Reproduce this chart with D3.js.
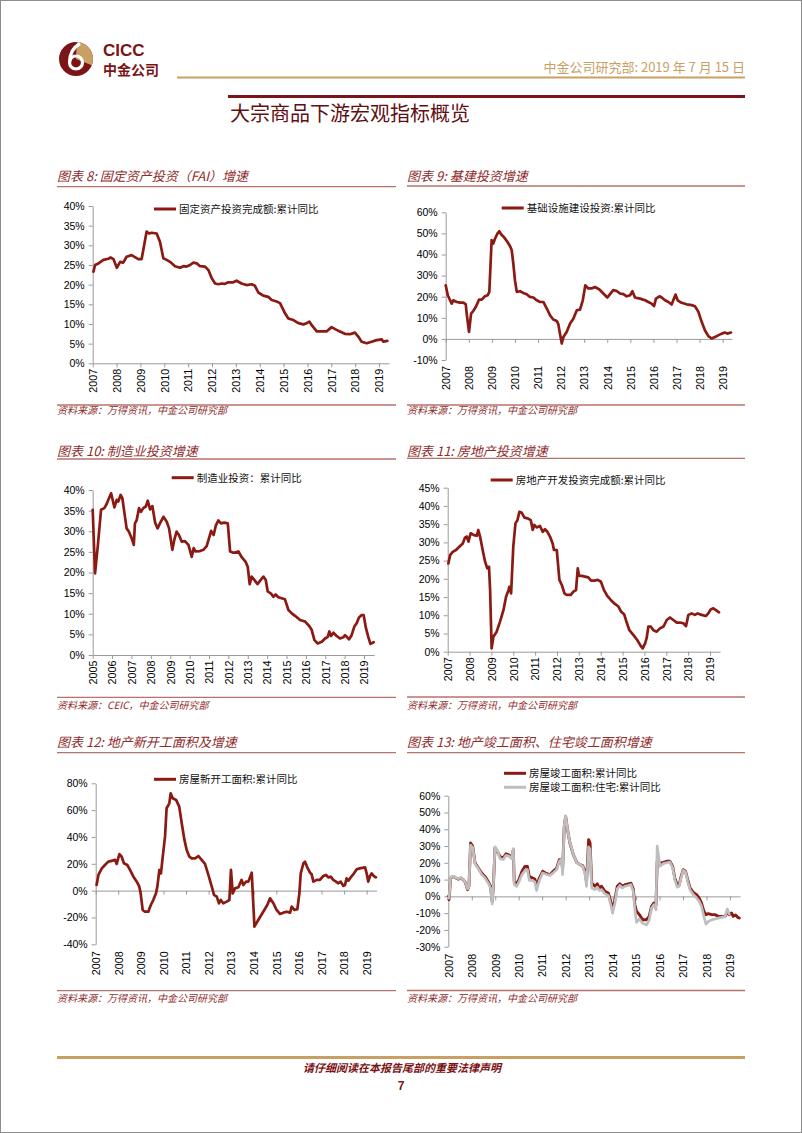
<!DOCTYPE html>
<html><head><meta charset="utf-8">
<script src="https://cdn.jsdelivr.net/npm/d3@7"></script>
<style>body{margin:0;background:#fff;} svg{display:block;}</style>
</head><body>
<script>
// ---------------- DATA ----------------
const years0719 = [2007,2008,2009,2010,2011,2012,2013,2014,2015,2016,2017,2018,2019];
const years0519 = [2005,2006,2007,2008,2009,2010,2011,2012,2013,2014,2015,2016,2017,2018,2019];
const ticksFai = [0,5,10,15,20,25,30,35,40];
const ticksInfra = [-10,0,10,20,30,40,50,60];
const ticksMfg = [0,5,10,15,20,25,30,35,40];
const ticksRe = [0,5,10,15,20,25,30,35,40,45];
const ticksStarts = [-40,-20,0,20,40,60,80];
const ticksCompl = [-30,-20,-10,0,10,20,30,40,50,60];

// [decimal year, % yoy]
const faiSeries = [[2007.03,23.3],[2007.10,25.0],[2007.24,25.4],[2007.45,26.3],[2007.66,26.6],[2007.75,26.9],[2007.87,26.5],[2008.01,24.3],[2008.15,25.8],[2008.28,25.6],[2008.42,27.1],[2008.63,27.5],[2008.77,27.0],[2008.91,26.5],[2009.05,26.5],[2009.12,28.8],[2009.26,33.5],[2009.36,33.0],[2009.47,33.2],[2009.68,33.0],[2009.82,30.9],[2009.96,26.7],[2010.10,26.3],[2010.24,25.8],[2010.45,24.7],[2010.66,24.3],[2010.80,24.7],[2010.94,24.6],[2011.08,25.0],[2011.22,25.6],[2011.36,25.4],[2011.50,24.7],[2011.71,24.6],[2011.85,23.7],[2011.99,21.6],[2012.13,20.3],[2012.27,20.1],[2012.41,20.3],[2012.54,20.2],[2012.68,20.6],[2012.89,20.6],[2013.03,21.0],[2013.24,20.3],[2013.45,19.9],[2013.66,20.1],[2013.80,19.7],[2013.94,18.0],[2014.15,17.2],[2014.36,16.9],[2014.50,16.1],[2014.71,15.7],[2014.85,15.3],[2014.99,13.6],[2015.06,12.7],[2015.20,11.4],[2015.41,11.0],[2015.62,10.2],[2015.83,9.9],[2015.97,10.2],[2016.08,10.6],[2016.18,9.7],[2016.39,8.1],[2016.59,8.1],[2016.80,8.1],[2017.01,9.2],[2017.22,8.5],[2017.36,8.1],[2017.57,7.5],[2017.78,7.4],[2017.99,7.8],[2018.13,6.8],[2018.27,5.5],[2018.48,5.1],[2018.69,5.5],[2018.90,5.9],[2019.11,6.1],[2019.18,5.5],[2019.35,5.7]];

const infraSeries = [[2007.00,25.4],[2007.09,20.7],[2007.19,18.3],[2007.26,16.7],[2007.33,18.3],[2007.48,17.5],[2007.62,17.2],[2007.77,17.2],[2007.87,16.4],[2007.91,12.0],[2008.01,3.3],[2008.10,12.0],[2008.20,13.3],[2008.31,15.2],[2008.44,18.6],[2008.56,18.6],[2008.70,20.2],[2008.82,20.7],[2008.89,22.3],[2008.99,46.8],[2009.06,45.2],[2009.14,47.6],[2009.24,49.9],[2009.32,51.0],[2009.40,49.6],[2009.54,48.0],[2009.67,46.0],[2009.79,43.9],[2009.86,42.0],[2009.93,35.7],[2010.00,27.8],[2010.08,22.3],[2010.22,22.6],[2010.36,21.8],[2010.51,21.2],[2010.65,19.9],[2010.80,19.6],[2010.94,18.3],[2011.09,17.5],[2011.23,17.5],[2011.38,14.4],[2011.52,11.2],[2011.66,9.2],[2011.81,8.5],[2011.88,7.0],[2011.95,2.5],[2012.03,-2.2],[2012.10,0.9],[2012.24,3.3],[2012.39,7.3],[2012.53,9.6],[2012.68,13.6],[2012.82,13.9],[2012.94,18.3],[2013.05,25.4],[2013.18,23.9],[2013.32,23.9],[2013.47,24.6],[2013.66,23.4],[2013.83,21.5],[2014.00,19.6],[2014.12,21.2],[2014.26,23.1],[2014.41,22.7],[2014.55,21.5],[2014.70,21.2],[2014.84,20.2],[2014.99,20.7],[2015.09,22.6],[2015.20,19.6],[2015.42,19.1],[2015.64,18.3],[2015.78,17.5],[2015.92,16.7],[2016.03,15.6],[2016.11,19.1],[2016.26,20.2],[2016.36,19.6],[2016.50,18.3],[2016.65,17.5],[2016.79,16.3],[2016.86,18.3],[2016.96,21.0],[2017.05,18.3],[2017.22,17.1],[2017.44,16.4],[2017.66,16.0],[2017.80,15.5],[2017.95,12.8],[2018.09,8.1],[2018.23,4.1],[2018.38,1.3],[2018.52,0.2],[2018.74,1.3],[2018.96,2.5],[2019.10,3.0],[2019.20,2.5],[2019.36,3.0]];

const mfgSeries = [[2005.00,35.2],[2005.12,19.8],[2005.26,26.3],[2005.43,35.2],[2005.60,35.6],[2005.72,36.6],[2005.84,38.0],[2005.95,39.2],[2006.01,38.0],[2006.12,35.8],[2006.24,37.6],[2006.32,37.2],[2006.44,38.8],[2006.53,38.0],[2006.63,34.7],[2006.75,30.7],[2006.87,29.9],[2007.01,28.3],[2007.12,26.7],[2007.18,31.9],[2007.27,32.7],[2007.39,35.6],[2007.49,34.7],[2007.61,35.6],[2007.74,36.0],[2007.84,37.4],[2007.96,35.3],[2008.08,36.1],[2008.22,32.1],[2008.35,30.7],[2008.47,31.9],[2008.65,33.5],[2008.82,32.3],[2008.94,30.7],[2009.11,25.5],[2009.21,27.9],[2009.33,29.9],[2009.45,29.1],[2009.59,27.5],[2009.76,27.6],[2009.94,26.7],[2010.11,23.8],[2010.21,25.9],[2010.31,25.1],[2010.54,25.2],[2010.71,25.5],[2010.88,26.4],[2011.00,28.3],[2011.11,30.1],[2011.24,29.1],[2011.36,31.5],[2011.48,32.6],[2011.62,31.9],[2011.79,32.1],[2011.97,31.9],[2012.09,25.1],[2012.26,24.8],[2012.52,25.1],[2012.69,23.7],[2012.89,22.6],[2013.00,21.4],[2013.10,17.2],[2013.20,19.0],[2013.34,18.2],[2013.50,17.2],[2013.67,18.2],[2013.81,19.0],[2013.93,18.2],[2014.03,15.4],[2014.20,14.9],[2014.32,14.1],[2014.44,14.7],[2014.58,14.0],[2014.79,13.7],[2014.92,13.5],[2015.10,10.9],[2015.27,10.1],[2015.44,9.5],[2015.70,8.5],[2015.96,8.1],[2016.16,7.1],[2016.30,6.1],[2016.44,3.6],[2016.61,2.8],[2016.82,3.2],[2016.99,4.0],[2017.13,4.4],[2017.21,5.7],[2017.30,4.6],[2017.42,5.4],[2017.59,4.6],[2017.76,4.0],[2017.93,4.3],[2018.02,4.8],[2018.11,4.4],[2018.23,3.8],[2018.36,4.8],[2018.50,6.9],[2018.62,7.7],[2018.74,9.1],[2018.88,9.7],[2018.98,9.7],[2019.10,6.5],[2019.22,4.4],[2019.33,2.7],[2019.50,3.1]];

const reSeries = [[2007.03,24.2],[2007.11,26.5],[2007.23,27.4],[2007.38,27.9],[2007.53,28.8],[2007.69,29.7],[2007.79,31.3],[2007.87,31.6],[2007.95,30.2],[2008.05,32.5],[2008.20,32.0],[2008.33,31.8],[2008.40,33.4],[2008.48,31.6],[2008.60,27.9],[2008.71,24.7],[2008.81,22.9],[2008.89,23.3],[2008.94,16.9],[2009.01,0.9],[2009.09,4.1],[2009.24,5.5],[2009.39,8.2],[2009.55,11.4],[2009.67,15.1],[2009.78,16.9],[2009.82,17.8],[2009.90,16.0],[2010.00,28.8],[2010.10,35.2],[2010.19,36.1],[2010.28,38.4],[2010.39,38.1],[2010.51,36.8],[2010.66,36.6],[2010.80,36.1],[2010.89,33.4],[2010.96,34.8],[2011.07,34.1],[2011.22,34.5],[2011.35,32.9],[2011.45,33.6],[2011.56,32.9],[2011.68,31.6],[2011.80,29.7],[2011.86,27.9],[2011.99,27.9],[2012.11,19.7],[2012.22,18.3],[2012.34,16.0],[2012.44,15.6],[2012.63,15.6],[2012.75,16.5],[2012.87,16.9],[2012.95,22.9],[2013.01,20.8],[2013.13,20.8],[2013.28,20.6],[2013.43,20.4],[2013.56,19.5],[2013.71,19.5],[2013.86,19.7],[2014.01,19.2],[2014.15,16.9],[2014.30,15.3],[2014.46,14.2],[2014.65,13.1],[2014.81,12.4],[2014.93,11.0],[2015.07,10.3],[2015.19,8.0],[2015.31,5.9],[2015.49,4.6],[2015.67,3.2],[2015.83,1.6],[2015.92,0.9],[2016.03,2.3],[2016.10,3.7],[2016.18,6.9],[2016.29,6.9],[2016.41,5.9],[2016.56,5.5],[2016.71,6.4],[2016.87,6.9],[2017.02,8.7],[2017.17,9.4],[2017.32,8.7],[2017.48,8.0],[2017.63,8.0],[2017.78,7.8],[2017.90,7.0],[2018.01,10.1],[2018.16,10.5],[2018.31,10.1],[2018.43,10.5],[2018.62,10.1],[2018.81,9.8],[2018.92,10.5],[2019.03,11.6],[2019.15,11.9],[2019.27,11.4],[2019.41,10.8]];

const startsSeries = [[2007.04,4.2],[2007.12,11.7],[2007.27,16.6],[2007.41,19.1],[2007.56,21.6],[2007.75,22.4],[2007.86,22.9],[2007.93,19.9],[2008.05,27.3],[2008.15,25.3],[2008.25,20.4],[2008.40,19.1],[2008.52,15.4],[2008.67,10.4],[2008.82,6.7],[2008.93,3.0],[2008.99,-2.0],[2009.08,-14.4],[2009.18,-15.7],[2009.33,-15.7],[2009.44,-10.7],[2009.55,-7.0],[2009.67,-2.0],[2009.73,3.0],[2009.82,15.4],[2009.89,12.9],[2009.97,25.3],[2010.07,40.2],[2010.14,61.4],[2010.26,65.1],[2010.32,72.5],[2010.41,68.8],[2010.56,67.6],[2010.70,62.6],[2010.81,50.2],[2010.93,37.8],[2011.03,30.3],[2011.15,25.3],[2011.25,24.1],[2011.40,24.1],[2011.55,25.8],[2011.69,22.9],[2011.84,19.9],[2011.99,11.7],[2012.14,3.0],[2012.24,-3.2],[2012.36,-4.5],[2012.46,-9.4],[2012.54,-7.0],[2012.65,-9.4],[2012.80,-8.2],[2012.92,-7.0],[2012.99,15.4],[2013.07,-2.0],[2013.17,1.7],[2013.32,2.5],[2013.46,8.0],[2013.54,4.2],[2013.66,6.7],[2013.76,6.7],[2013.91,13.4],[2014.03,-26.8],[2014.20,-21.9],[2014.42,-15.7],[2014.60,-10.7],[2014.72,-5.7],[2014.87,-9.4],[2015.01,-14.4],[2015.16,-17.4],[2015.31,-16.4],[2015.46,-15.7],[2015.61,-16.4],[2015.68,-11.9],[2015.80,-14.4],[2015.93,-13.9],[2016.02,-2.0],[2016.08,12.9],[2016.20,20.4],[2016.27,21.6],[2016.37,17.4],[2016.49,13.4],[2016.56,12.4],[2016.64,6.7],[2016.79,8.0],[2016.93,8.0],[2017.08,10.9],[2017.20,11.7],[2017.30,9.9],[2017.41,10.4],[2017.52,8.0],[2017.64,6.7],[2017.75,5.5],[2017.85,6.7],[2017.97,3.5],[2018.04,4.2],[2018.11,9.2],[2018.19,7.5],[2018.34,10.9],[2018.44,12.9],[2018.56,15.9],[2018.70,16.6],[2018.85,17.1],[2018.93,17.4],[2019.00,12.9],[2019.07,6.7],[2019.15,10.9],[2019.22,12.9],[2019.32,10.9],[2019.41,9.9]];

// [decimal year, total completed %, residential completed %]
const completedSeries = [[2007.00,0,-1],[2007.03,-2,-1],[2007.10,10.9,11.5],[2007.21,11.9,12],[2007.33,10.9,11],[2007.43,10.3,10.5],[2007.53,10.9,11],[2007.64,9.9,10],[2007.72,8.5,8.5],[2007.82,4.0,4.5],[2007.88,6,6],[2007.95,31.8,30.5],[2008.04,29.8,29],[2008.14,19.9,19.5],[2008.28,16.9,16.5],[2008.42,13.9,13],[2008.56,11.9,11],[2008.70,8.9,8],[2008.80,6.0,5],[2008.87,-3.0,-4.5],[2008.92,6.0,6],[2008.99,28.8,29.5],[2009.09,26.8,27.5],[2009.20,23.8,22.5],[2009.34,22.8,22],[2009.46,25.4,24.5],[2009.58,24.8,24],[2009.70,22.8,22.5],[2009.77,27.8,28.5],[2009.81,8.9,7],[2009.91,7.5,6],[2010.02,10.3,9],[2010.14,14.9,13],[2010.27,17.9,15.5],[2010.37,17.9,16],[2010.45,11.9,9.5],[2010.59,10.9,9.5],[2010.69,10.3,8.5],[2010.76,6.0,3.5],[2010.88,10.9,9.5],[2011.02,14.9,14],[2011.19,13.5,13],[2011.33,12.9,12.5],[2011.47,14.9,14],[2011.62,16.9,16],[2011.73,21.9,21],[2011.83,21.9,22],[2011.87,15.9,13],[2011.94,41.7,42],[2012.00,47.7,48],[2012.08,39.7,40],[2012.18,31.8,32],[2012.33,24.8,25],[2012.47,20.3,20],[2012.61,18.9,19],[2012.72,18.3,18],[2012.82,14.9,14],[2012.89,8.9,6],[2012.98,33.8,29.5],[2013.04,31.8,28],[2013.11,7.9,5],[2013.25,6.0,4],[2013.35,7.5,5.5],[2013.43,5.0,3.5],[2013.53,6.0,4],[2013.67,3.0,1.5],[2013.82,2.0,0.5],[2013.92,-3.0,-5],[2014.00,-7.9,-10],[2014.10,-2.0,-4],[2014.20,6.0,4.5],[2014.31,7.5,6.5],[2014.41,6.0,5],[2014.53,7.0,6],[2014.67,7.5,6.5],[2014.78,7.9,7],[2014.88,4.4,3],[2014.95,-5.0,-8],[2015.02,-8.9,-15.5],[2015.14,-10.9,-13.5],[2015.28,-13.9,-16],[2015.45,-13.9,-17],[2015.56,-11.9,-14],[2015.66,-6.0,-7],[2015.76,-4.0,-5],[2015.85,-5.0,-8],[2015.90,20.9,30],[2016.02,19.9,18],[2016.16,20.3,19.5],[2016.30,20.9,20],[2016.44,20.9,20.5],[2016.56,17.9,17],[2016.65,10.9,10],[2016.75,7.0,5.5],[2016.84,7.0,6],[2016.90,10.9,10],[2017.01,15.9,15.5],[2017.11,14.9,14.5],[2017.20,9.9,9],[2017.30,5.0,4],[2017.44,2.4,1],[2017.58,1.0,-1],[2017.69,-1.0,-3],[2017.79,-4.0,-6],[2017.89,-8.9,-12],[2017.98,-10.9,-16.5],[2018.08,-10.3,-15],[2018.22,-10.9,-14],[2018.36,-10.9,-13.5],[2018.50,-11.9,-13],[2018.65,-11.9,-12.5],[2018.79,-11.9,-12],[2018.89,-9.5,-7.5],[2018.97,-10.9,-10.5],[2019.07,-9.9,null],[2019.14,-11.9,null],[2019.24,-11.1,null],[2019.33,-12.5,null],[2019.40,-12.9,null]];

// ---------------- STYLE ----------------
const W = 802, H = 1133;
const RED = '#8A1A12', GRAY = '#BEBEBE', DARK = '#7A1416', GOLD = '#C9A063';
const TITLE_C = '#8E2B2B', RULE_C = '#B8726C', AX = '#9A9A9A';
const CJK = '"Noto Sans CJK SC", "Noto Sans", sans-serif';
const LAT = '"Liberation Sans", Arial, sans-serif';

const svg = d3.select('body').append('svg').attr('width', W).attr('height', H);
svg.append('rect').attr('x', 0.5).attr('y', 0.5).attr('width', W - 1).attr('height', H - 1)
  .attr('fill', '#fff').attr('stroke', '#8c8c8c');

// ---------------- HEADER ----------------
const logo = svg.append('g').attr('transform', 'translate(76,59)');
logo.append('circle').attr('r', 17).attr('fill', DARK);
logo.append('path').attr('d', d3.arc().innerRadius(0).outerRadius(17).startAngle(0.05).endAngle(Math.PI * 0.62)()).attr('fill', GOLD);
logo.append('circle').attr('cx', 0).attr('cy', 3.5).attr('r', 6.5).attr('fill', 'none').attr('stroke', '#fff').attr('stroke-width', 3.2);
logo.append('path').attr('d', 'M -6.3,3 C -6.5,-6 -2,-12 4,-15.5').attr('fill', 'none').attr('stroke', '#fff').attr('stroke-width', 3.2);
logo.append('circle').attr('cx', 0).attr('cy', 3.5).attr('r', 2.6).attr('fill', DARK);

svg.append('text').attr('x', 103).attr('y', 56).text('CICC')
  .attr('font-family', LAT).attr('font-weight', 'bold').attr('font-size', 17).attr('fill', DARK);
svg.append('text').attr('x', 103).attr('y', 75).text('中金公司')
  .attr('font-family', CJK).attr('font-weight', 'bold').attr('font-size', 14).attr('fill', DARK);
svg.append('line').attr('x1', 177).attr('x2', 745).attr('y1', 77.5).attr('y2', 77.5).attr('stroke', GOLD).attr('stroke-width', 2);
svg.append('text').attr('x', 745).attr('y', 72).attr('text-anchor', 'end')
  .text('中金公司研究部: 2019 年 7 月 15 日')
  .attr('font-family', CJK).attr('font-size', 13).attr('fill', GOLD);
svg.append('line').attr('x1', 228).attr('x2', 745).attr('y1', 96.5).attr('y2', 96.5).attr('stroke', DARK).attr('stroke-width', 3);
svg.append('text').attr('x', 230).attr('y', 121).text('大宗商品下游宏观指标概览')
  .attr('font-family', CJK).attr('font-size', 20).attr('fill', '#5E0F12');

// ---------------- FOOTER ----------------
svg.append('line').attr('x1', 57).attr('x2', 745).attr('y1', 1057.5).attr('y2', 1057.5).attr('stroke', GOLD).attr('stroke-width', 3);
svg.append('text').attr('x', 402).attr('y', 1072).attr('text-anchor', 'middle')
  .text('请仔细阅读在本报告尾部的重要法律声明')
  .attr('font-family', CJK).attr('font-size', 11).attr('font-style', 'italic').attr('font-weight', 'bold').attr('fill', DARK);
svg.append('text').attr('x', 401).attr('y', 1090).attr('text-anchor', 'middle').text('7')
  .attr('font-family', LAT).attr('font-size', 12).attr('font-weight', 'bold').attr('fill', DARK);

// ---------------- PANELS ----------------
function panel(p) {
  const g = svg.append('g');
  g.append('text').attr('x', p.left).attr('y', p.titleY + 4.5).text(p.title)
    .attr('font-family', CJK).attr('font-size', 13).attr('font-style', 'italic').attr('fill', TITLE_C);
  g.append('line').attr('x1', p.left).attr('x2', p.right).attr('y1', p.ruleY).attr('y2', p.ruleY)
    .attr('stroke', RULE_C).attr('stroke-width', 1.3);
  g.append('line').attr('x1', p.left).attr('x2', p.right).attr('y1', p.srcRuleY).attr('y2', p.srcRuleY)
    .attr('stroke', RULE_C).attr('stroke-width', 1.3);
  g.append('text').attr('x', p.left).attr('y', p.srcY + 3.5).text(p.source)
    .attr('font-family', CJK).attr('font-size', 10).attr('font-style', 'italic').attr('fill', TITLE_C);

  const x = d3.scaleLinear().domain([p.t0, p.t1]).range([p.x0, p.x0 + (p.t1 - p.t0) * p.perYear]);
  const y = d3.scaleLinear().domain([p.vMin, p.vMax]).range([p.yBot, p.yTop]);

  const ya = g.append('g').attr('transform', `translate(${p.x0},0)`)
    .call(d3.axisLeft(y).tickValues(p.yTicks).tickFormat(d => d + '%').tickSize(4).tickSizeOuter(0).tickPadding(4));
  ya.select('.domain').attr('stroke', AX);
  ya.selectAll('.tick line').attr('stroke', AX);
  ya.selectAll('text').attr('font-family', LAT).attr('font-size', 10.5).attr('fill', '#000');

  const xa = g.append('g').attr('transform', `translate(0,${y(0)})`)
    .call(d3.axisBottom(x).tickValues(p.years).tickFormat('').tickSize(4).tickSizeOuter(0));
  xa.select('.domain').attr('stroke', AX);
  xa.selectAll('.tick line').attr('stroke', AX);

  const xl = g.append('g').attr('transform', `translate(0,${y(p.vMin)})`)
    .call(d3.axisBottom(x).tickValues(p.years).tickFormat(d3.format('d')).tickSize(0));
  xl.select('.domain').remove();
  xl.selectAll('text').attr('transform', 'rotate(-90)').attr('text-anchor', 'end')
    .attr('x', -p.labGap).attr('y', 0).attr('dy', '0.35em')
    .attr('font-family', LAT).attr('font-size', 10.8).attr('fill', '#000');

  p.series.forEach(s => {
    const line = d3.line().defined(d => d[s.col] != null).x(d => x(d[0])).y(d => y(d[s.col]));
    g.append('path').datum(s.data).attr('d', line).attr('fill', 'none')
      .attr('stroke', s.color).attr('stroke-width', s.width).attr('stroke-linejoin', 'round').attr('stroke-linecap', 'round');
  });
  p.legend.forEach(l => {
    g.append('line').attr('x1', l.x).attr('x2', l.x + 22).attr('y1', l.y).attr('y2', l.y)
      .attr('stroke', l.color).attr('stroke-width', 3);
    g.append('text').attr('x', l.x + 25).attr('y', l.y + 3.8).text(l.label)
      .attr('font-family', CJK).attr('font-size', 10.5).attr('fill', '#111');
  });
}

panel({ title: '图表 8: 固定资产投资（FAI）增速', left: 57, right: 396, titleY: 176.7, ruleY: 186.7,
  srcRuleY: 405, srcY: 410.5, source: '资料来源：万得资讯，中金公司研究部',
  t0: 2007, t1: 2019.42, x0: 92.7, perYear: 23.86, vMin: 0, vMax: 40, yBot: 363.3, yTop: 206,
  yTicks: ticksFai, years: years0719, labGap: 5.5,
  series: [{ data: faiSeries, col: 1, color: RED, width: 2.7 }],
  legend: [{ x: 154, y: 209, color: RED, label: '固定资产投资完成额:累计同比' }] });

panel({ title: '图表 9: 基建投资增速', left: 407, right: 745, titleY: 176.7, ruleY: 186,
  srcRuleY: 405, srcY: 410.5, source: '资料来源：万得资讯，中金公司研究部',
  t0: 2007, t1: 2019.4, x0: 445.7, perYear: 23.08, vMin: -10, vMax: 60, yBot: 360, yTop: 212.3,
  yTicks: ticksInfra, years: years0719, labGap: 6,
  series: [{ data: infraSeries, col: 1, color: RED, width: 2.7 }],
  legend: [{ x: 501.7, y: 208, color: RED, label: '基础设施建设投资:累计同比' }] });

panel({ title: '图表 10: 制造业投资增速', left: 57, right: 396, titleY: 451, ruleY: 459,
  srcRuleY: 697.3, srcY: 705.5, source: '资料来源：CEIC，中金公司研究部',
  t0: 2005, t1: 2019.52, x0: 92.7, perYear: 19.38, vMin: 0, vMax: 40, yBot: 655, yTop: 490,
  yTicks: ticksMfg, years: years0519, labGap: 5.5,
  series: [{ data: mfgSeries, col: 1, color: RED, width: 2.7 }],
  legend: [{ x: 171.7, y: 477.7, color: RED, label: '制造业投资：累计同比' }] });

panel({ title: '图表 11: 房地产投资增速', left: 407, right: 745, titleY: 451, ruleY: 458.3,
  srcRuleY: 697, srcY: 705.5, source: '资料来源：万得资讯，中金公司研究部',
  t0: 2007, t1: 2019.46, x0: 447.7, perYear: 21.86, vMin: 0, vMax: 45, yBot: 651.7, yTop: 487.7,
  yTicks: ticksRe, years: years0719, labGap: 5.5,
  series: [{ data: reSeries, col: 1, color: RED, width: 2.7 }],
  legend: [{ x: 490.7, y: 480, color: RED, label: '房地产开发投资完成额:累计同比' }] });

panel({ title: '图表 12: 地产新开工面积及增速', left: 57, right: 396, titleY: 742.7, ruleY: 752.7,
  srcRuleY: 990.7, srcY: 998.3, source: '资料来源：万得资讯，中金公司研究部',
  t0: 2007, t1: 2019.44, x0: 95.7, perYear: 22.58, vMin: -40, vMax: 80, yBot: 944.3, yTop: 783.3,
  yTicks: ticksStarts, years: years0719, labGap: 7,
  series: [{ data: startsSeries, col: 1, color: RED, width: 2.7 }],
  legend: [{ x: 154, y: 779.3, color: RED, label: '房屋新开工面积:累计同比' }] });

panel({ title: '图表 13: 地产竣工面积、住宅竣工面积增速', left: 407, right: 745, titleY: 742.7, ruleY: 752.7,
  srcRuleY: 990.5, srcY: 998, source: '资料来源：万得资讯，中金公司研究部',
  t0: 2007, t1: 2019.43, x0: 448.3, perYear: 23.47, vMin: -30, vMax: 60, yBot: 946.7, yTop: 795.7,
  yTicks: ticksCompl, years: years0719, labGap: 7,
  series: [{ data: completedSeries, col: 1, color: RED, width: 2.9 },
           { data: completedSeries, col: 2, color: GRAY, width: 2.7 }],
  legend: [{ x: 504, y: 773.3, color: RED, label: '房屋竣工面积:累计同比' },
           { x: 504, y: 787.3, color: GRAY, label: '房屋竣工面积:住宅:累计同比' }] });
</script>
</body></html>
